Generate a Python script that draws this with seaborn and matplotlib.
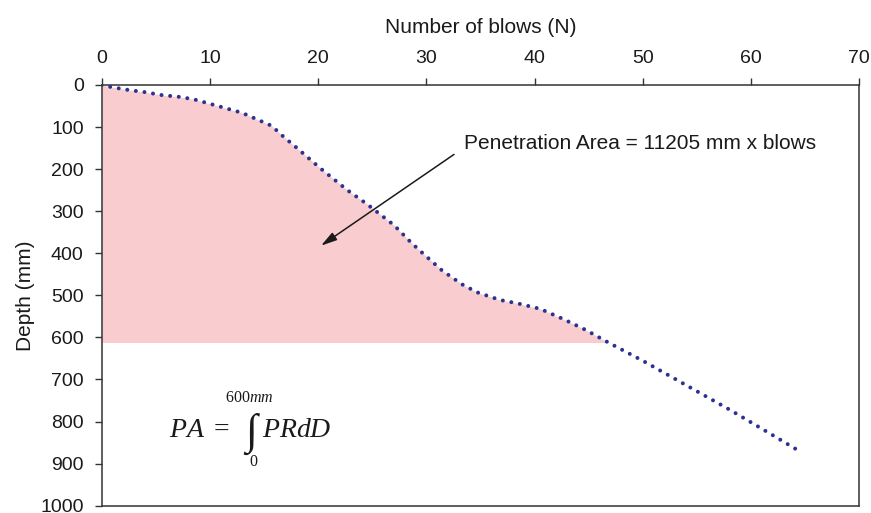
import matplotlib
matplotlib.use("Agg")
import matplotlib.pyplot as plt
import numpy as np
import pandas as pd
import seaborn as sns

# DCP penetration record: cumulative blows vs. depth
blows = [0.0, 0.9, 2.5, 4.0, 5.55, 7.1, 8.5, 9.9, 12.95, 15.7, 16.8, 18.0,
         20.2, 22.7, 24.5, 27.0, 28.6, 29.75, 31.45, 33.3, 34.7, 36.8, 38.4,
         40.5, 42.7, 44.7, 46.8, 50.1, 54.1, 58.1, 62.1, 64.7]
depth = [0, 5, 12, 17, 24, 28, 34, 44, 66, 97, 123, 149,
         198, 250, 283, 333, 375, 402, 441, 474, 493, 511, 519,
         532, 557, 582, 612, 657, 715, 773, 834, 874]

x_ticks = [0, 10, 20, 30, 40, 50, 60, 70]
y_ticks = [0, 100, 200, 300, 400, 500, 600, 700, 800, 900, 1000]

area_depth = 612
area_label = "Penetration Area = 11205 mm x blows"

sns.set_theme(style="ticks")
plt.rcParams["font.family"] = ["Liberation Sans", "DejaVu Sans"]
plt.rcParams["mathtext.fontset"] = "custom"
plt.rcParams["mathtext.rm"] = "Liberation Serif"
plt.rcParams["mathtext.it"] = "Liberation Serif:italic"

text_color = "#1a1a1a"
line_color = "#2B3290"
fill_color = "#F9CCCF"
spine_color = "#333333"

df = pd.DataFrame({"blows": blows, "depth": depth})

fig = plt.figure(figsize=(8.71, 5.13), dpi=100)
ax = fig.add_axes([0.1168, 0.01423, 0.8698, 0.8201])

# shaded penetration area between the depth axis and the curve
under = df[df["depth"] <= area_depth]
ax.fill_betweenx(under["depth"], 0, under["blows"], color=fill_color,
                 lw=0, zorder=1)

sns.lineplot(data=df, x="blows", y="depth", sort=False, estimator=None,
             ax=ax, color=line_color, lw=2.9,
             linestyle=(0, (0.001, 2.15)), dash_capstyle="round", zorder=3)

ax.set_xlim(0, 70)
ax.set_ylim(1000, 0)
ax.set_xticks(x_ticks)
ax.set_yticks(y_ticks)
ax.xaxis.tick_top()
ax.xaxis.set_label_position("top")
ax.tick_params(axis="both", direction="out", length=5, width=1,
               color=spine_color, labelsize=14, labelcolor=text_color, pad=8)
ax.tick_params(axis="x", top=True, bottom=False)
ax.tick_params(axis="y", left=True, right=False)

ax.set_xlabel("Number of blows (N)", fontsize=15, color=text_color,
              labelpad=12)
ax.set_ylabel("Depth (mm)", fontsize=15, color=text_color, labelpad=4)

for side in ["top", "bottom", "left", "right"]:
    ax.spines[side].set_visible(True)
    ax.spines[side].set_color(spine_color)
    ax.spines[side].set_linewidth(1.1)

# area annotation
ax.annotate("", xy=(20.26, 382), xytext=(32.55, 165),
            arrowprops=dict(arrowstyle="-|>,head_length=0.8,head_width=0.22",
                            color=text_color, lw=1.1, shrinkA=0, shrinkB=0),
            zorder=4)
ax.text(33.5, 140, area_label, fontsize=15, color=text_color,
        ha="left", va="center", zorder=4)

# definition of the penetration area
ax.text(6.2, 821, r"$PA\ =$", fontsize=20, color=text_color,
        ha="left", va="center")
ax.text(13.8, 829, "\u222b", fontsize=31, color=text_color,
        family=["Liberation Serif", "DejaVu Serif"], ha="center", va="center")
ax.text(14.8, 821, r"$PRdD$", fontsize=20, color=text_color,
        ha="left", va="center")
ax.text(13.6, 744, r"$600\mathit{mm}$", fontsize=11.5, color=text_color,
        ha="center", va="center")
ax.text(14.0, 896, r"$0$", fontsize=11.5, color=text_color,
        ha="center", va="center")

fig.savefig("out.png", dpi=100)
